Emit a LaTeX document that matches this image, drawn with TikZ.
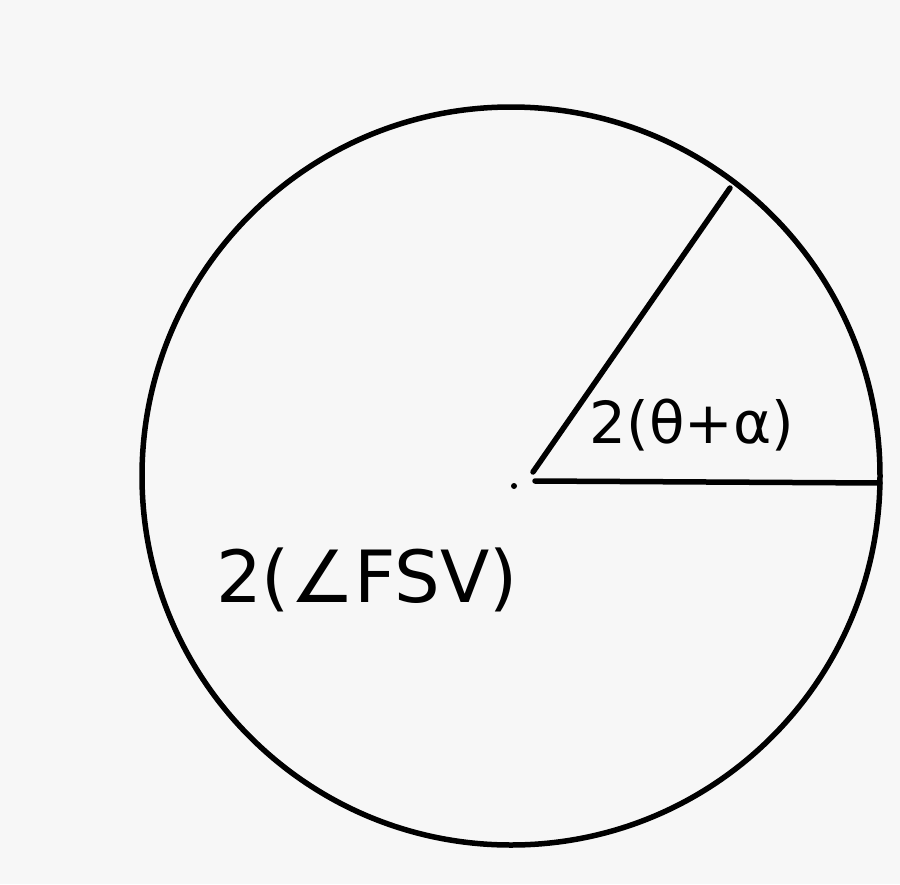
\documentclass[tikz,border=0pt]{standalone}
\usepackage{fontspec}
\setmainfont{DejaVu Sans}
\begin{document}
\begin{tikzpicture}[x=1pt,y=-1pt,
  ink/.style={line width=5.5pt,black,line cap=round},
  lbl/.style={inner sep=0pt,text=black}]
\useasboundingbox[fill=black!3] (0,0) rectangle (900,884);
\coordinate (O) at (511,476);
\coordinate (Os) at (535,481);
\coordinate (Ou) at (533,472);
\coordinate (R) at (880,483);
\coordinate (U) at (730,188);
\draw[ink] (O) circle[radius=369];
\draw[ink] (Os) -- (R);
\draw[ink] (Ou) -- (U);
\fill[black] (514,486) circle[radius=3];
\node[lbl,font=\fontsize{58}{62}\selectfont] (a) at (692,425) {2(θ+α)};
\node[lbl,font=\fontsize{72}{76}\selectfont] (b) at (367,580) {2(∠FSV)};
\end{tikzpicture}
\end{document}
